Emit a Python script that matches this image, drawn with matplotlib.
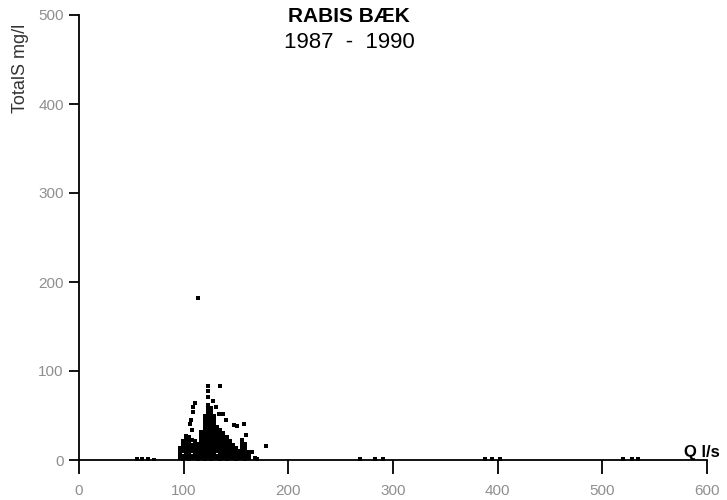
#!/usr/bin/env python3
"""Scatter of total S concentration against discharge, Rabis Baek 1987-1990 -> out.png."""
import matplotlib
matplotlib.use("Agg")
import matplotlib.pyplot as plt

# dense body of the cloud, listed column by column (Q l/s, total S mg/l)
body_q = (
    [96] * 4 + [99] * 6 + [102] * 7 + [105] * 7 + [108] * 6 + [111] * 6
    + [114] * 5 + [117] * 8 + [120] * 13 + [123] * 16 + [126] * 15
    + [129] * 13 + [132] * 10 + [135] * 9 + [138] * 8 + [141] * 7
    + [144] * 6 + [147] * 5 + [150] * 4 + [153] * 3 + [156] * 6
    + [159] * 5 + [162] * 3
)
body_s = [
    2, 5, 9, 13,
    1, 5, 10, 14, 17, 21,
    2, 6, 9, 14, 18, 23, 27,
    1, 6, 10, 13, 18, 22, 26,
    2, 5, 10, 14, 17, 22,
    2, 6, 9, 13, 18, 21,
    1, 6, 10, 14, 18,
    2, 6, 9, 14, 18, 23, 27, 32,
    1, 6, 10, 14, 18, 22, 26, 30, 34, 38, 42, 46, 50,
    2, 6, 10, 14, 18, 22, 26, 30, 34, 38, 42, 46, 50, 54, 58, 62,
    1, 6, 10, 14, 18, 22, 26, 30, 34, 38, 42, 46, 50, 54, 58,
    2, 6, 10, 14, 18, 22, 26, 30, 34, 38, 42, 46, 50,
    2, 5, 10, 14, 18, 22, 26, 30, 34, 37,
    1, 6, 10, 14, 18, 22, 26, 30, 34,
    2, 6, 10, 14, 18, 22, 26, 30,
    1, 6, 10, 14, 18, 22, 26,
    2, 6, 10, 14, 18, 21,
    2, 6, 9, 14, 17,
    1, 6, 10, 14,
    2, 6, 10,
    2, 6, 10, 14, 18, 22,
    1, 6, 10, 14, 18,
    2, 6, 9,
]

# scattered single samples around and above the cloud
stray_q = [114, 123, 135, 123, 123, 111, 109, 109, 107, 106, 108, 134, 136,
           138, 148, 151, 158, 160, 163, 165, 168, 179, 170, 140, 128, 131]
stray_s = [182, 83, 83, 77, 71, 64, 60, 54, 45, 41, 34, 52, 52,
           52, 39, 38, 40, 28, 9, 9, 2, 16, 1, 45, 66, 60]

# low readings lying along the Q axis
base_q = [55, 60, 66, 72, 268, 283, 290, 388, 395, 402, 520, 528, 534]
base_s = [1, 1, 1, 0.5, 1, 1, 1, 1, 1, 1, 1, 1, 1]

x_ticks = [0, 100, 200, 300, 400, 500, 600]
y_ticks = [0, 100, 200, 300, 400, 500]

plt.rcParams["font.family"] = ["Liberation Sans", "DejaVu Sans"]

fig = plt.figure(figsize=(7.27, 5.0), dpi=100)
ax = fig.add_axes([0.1087, 0.08, 0.8638, 0.89])

ax.scatter(body_q + stray_q + base_q, body_s + stray_s + base_s,
           s=10, marker="s", color="black", linewidths=0)

ax.set_xlim(0, 600)
ax.set_ylim(0, 500)
ax.set_xticks(x_ticks)
ax.set_yticks(y_ticks)
for side in ("top", "right"):
    ax.spines[side].set_visible(False)
for side in ("left", "bottom"):
    ax.spines[side].set_linewidth(1.3)
ax.tick_params(axis="x", direction="out", length=10, width=1.3, pad=7,
               labelsize=11, labelcolor="#8f8f8f")
ax.tick_params(axis="y", direction="out", length=7, width=1.3, pad=4,
               labelsize=11, labelcolor="#8f8f8f")

fig.text(0.48, 1 - 17 / 500, "RABIS BÆK", ha="center", va="center",
         fontsize=15, fontweight="bold")
fig.text(0.48, 1 - 42 / 500, "1987  -  1990", ha="center", va="center",
         fontsize=16)
fig.text(0.028, 1 - 68 / 500, "TotalS mg/l", rotation=90, ha="center",
         va="center", fontsize=13, color="#333333")
fig.text(0.966, 1 - 452 / 500, "Q l/s", ha="center", va="center",
         fontsize=12, fontweight="bold")

fig.savefig("out.png", dpi=100)
